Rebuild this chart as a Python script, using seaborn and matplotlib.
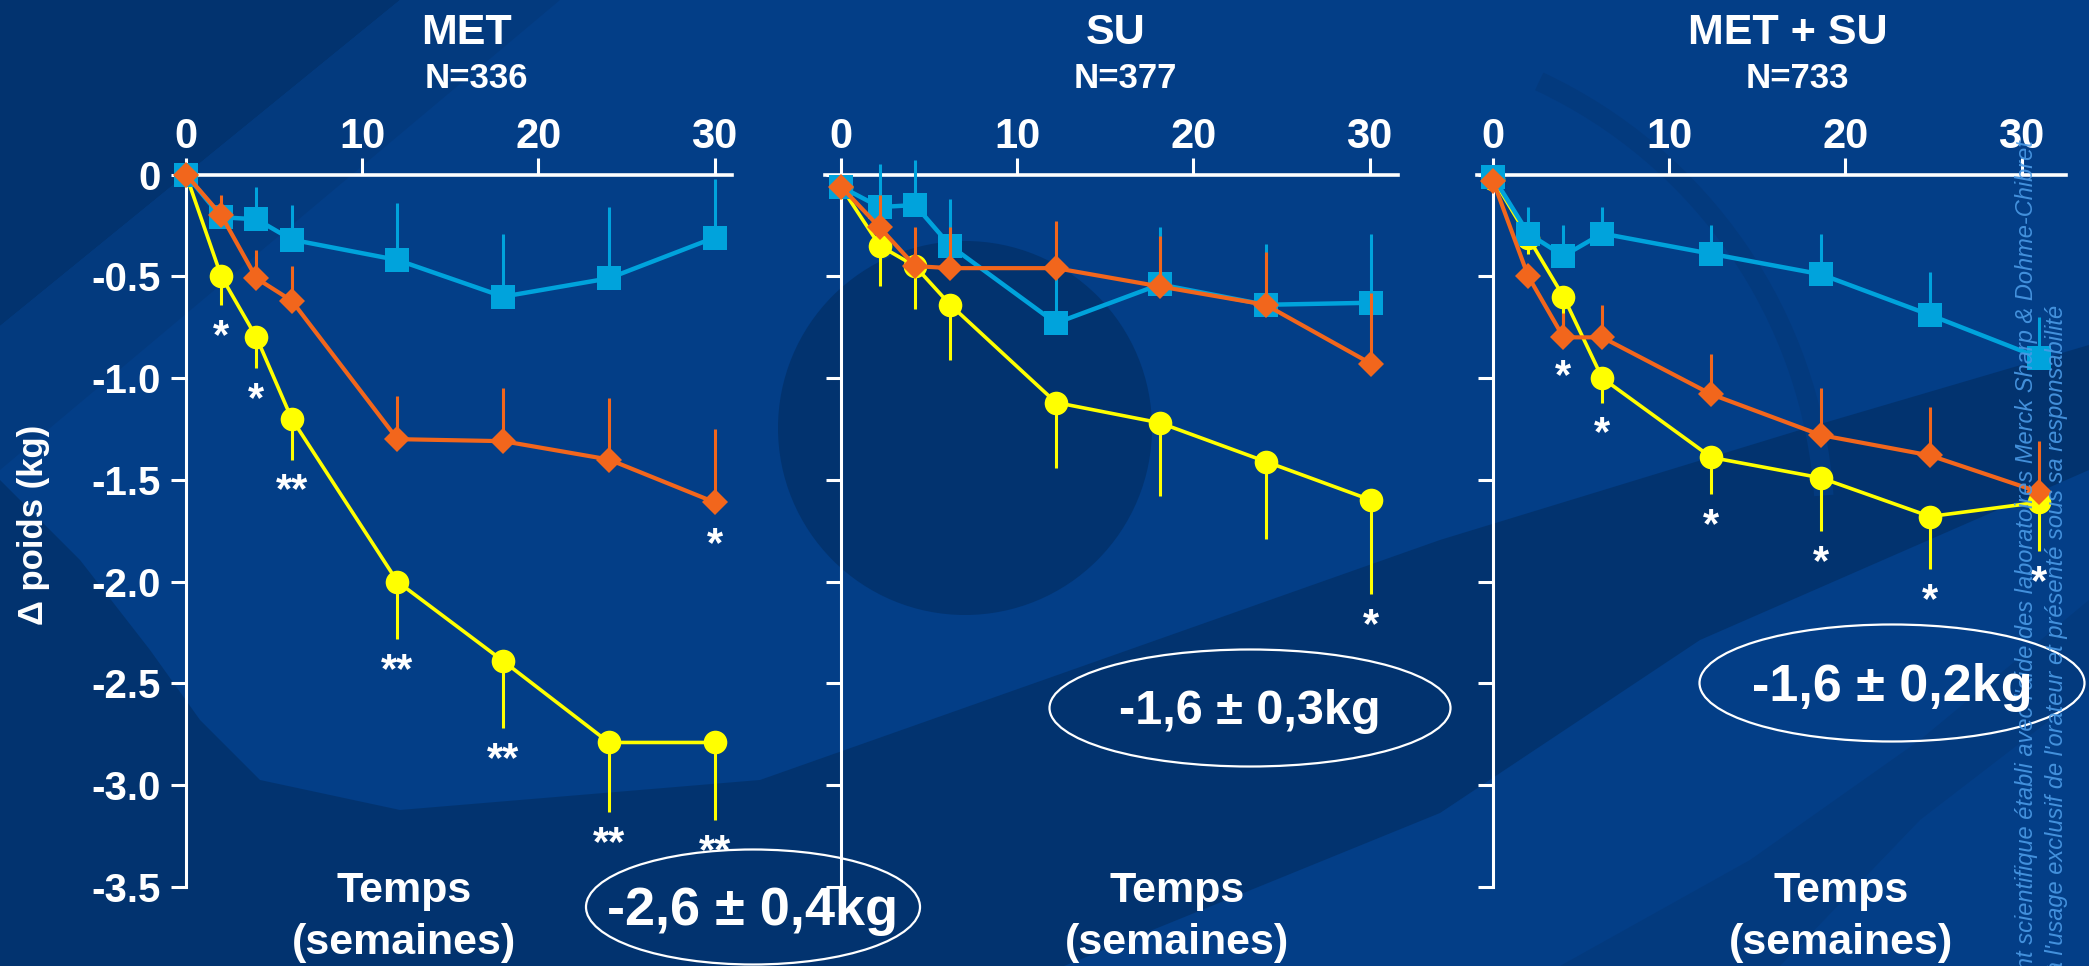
import numpy as np
import pandas as pd
import matplotlib
matplotlib.use("Agg")
import matplotlib.pyplot as plt
from matplotlib.patches import Ellipse, Circle, Polygon, Arc
import seaborn as sns

# ---------------------------------------------------------------- data
PANELS = ["MET", "SU", "MET + SU"]
EFFECTIFS = ["N=336", "N=377", "N=733"]
RESUMES = ["-2,6 \u00b1 0,4kg", "-1,6 \u00b1 0,3kg", "-1,6 \u00b1 0,2kg"]

# weeks at which each panel's points sit
SEMAINES_MET = [0, 2, 4, 6, 12, 18, 24, 30]
SEMAINES_SU = [0, 2.2, 4.2, 6.2, 12.2, 18.1, 24.1, 30.1]
SEMAINES_MET_SU = [0, 2, 4, 6.2, 12.4, 18.6, 24.8, 31.0]

# change in weight (kg), three treatment arms per panel
BLEU_MET = [0, -0.21, -0.22, -0.32, -0.42, -0.60, -0.51, -0.31]
ORANGE_MET = [0, -0.20, -0.51, -0.62, -1.30, -1.31, -1.40, -1.61]
JAUNE_MET = [0, -0.50, -0.80, -1.20, -2.00, -2.39, -2.79, -2.79]

BLEU_SU = [-0.06, -0.16, -0.15, -0.35, -0.73, -0.54, -0.64, -0.63]
ORANGE_SU = [-0.06, -0.26, -0.45, -0.46, -0.46, -0.55, -0.64, -0.93]
JAUNE_SU = [-0.06, -0.35, -0.45, -0.64, -1.12, -1.22, -1.41, -1.60]

BLEU_MET_SU = [-0.01, -0.29, -0.40, -0.29, -0.39, -0.49, -0.69, -0.90]
ORANGE_MET_SU = [-0.03, -0.50, -0.80, -0.80, -1.08, -1.28, -1.38, -1.56]
JAUNE_MET_SU = [-0.02, -0.31, -0.60, -1.00, -1.39, -1.49, -1.68, -1.61]

# one-sided error bars (up for blue/orange, down for yellow)
ERR_BLEU_MET = [0, 0.09, 0.16, 0.17, 0.28, 0.31, 0.35, 0.29]
ERR_ORANGE_MET = [0, 0.10, 0.14, 0.17, 0.21, 0.26, 0.30, 0.36]
ERR_JAUNE_MET = [0, 0.14, 0.15, 0.20, 0.28, 0.33, 0.34, 0.38]

ERR_BLEU_SU = [0, 0.21, 0.22, 0.23, 0.29, 0.28, 0.30, 0.34]
ERR_ORANGE_SU = [0, 0.16, 0.19, 0.20, 0.23, 0.25, 0.26, 0.35]
ERR_JAUNE_SU = [0, 0.20, 0.21, 0.27, 0.32, 0.36, 0.38, 0.46]

ERR_BLEU_MET_SU = [0, 0.13, 0.15, 0.13, 0.14, 0.20, 0.21, 0.20]
ERR_ORANGE_MET_SU = [0, 0.05, 0.12, 0.16, 0.20, 0.23, 0.24, 0.25]
ERR_JAUNE_MET_SU = [0, 0.08, 0.24, 0.12, 0.18, 0.26, 0.26, 0.24]

# significance marks
SIG_ORANGE_MET = ["", "", "", "", "", "", "", "*"]
SIG_JAUNE_MET = ["", "*", "*", "**", "**", "**", "**", "**"]
SIG_JAUNE_SU = ["", "", "", "", "", "", "", "*"]
SIG_JAUNE_MET_SU = ["", "", "*", "*", "*", "*", "*", "*"]
NO_SIG = [""] * 8

X_TICKS = [0, 10, 20, 30]
Y_TICKS = [0, -0.5, -1.0, -1.5, -2.0, -2.5, -3.0, -3.5]
Y_TICK_LABELS = ["0", "-0.5", "-1.0", "-1.5", "-2.0", "-2.5", "-3.0", "-3.5"]

# ---------------------------------------------------------------- style
sns.set_theme(style="white")
plt.rcParams["font.family"] = ["Liberation Sans", "DejaVu Sans"]
plt.rcParams["axes.unicode_minus"] = False

BG = "#033e87"
BG_DARK = "#02336f"
BG_MID = "#033a7e"
BLEU = "#00a3dc"
ORANGE = "#f2661c"
JAUNE = "#ffff00"
BLANC = "white"
FILIGRANE = "#4a9ae6"

W, H = 2089, 966
fig = plt.figure(figsize=(W / 100, H / 100), dpi=100, facecolor=BG)

# background decoration, in pixel coordinates
bg = fig.add_axes([0, 0, 1, 1], zorder=-10)
bg.set_xlim(0, W)
bg.set_ylim(H, 0)
bg.axis("off")
bg.add_patch(Polygon([(0, 0), (400, 0), (0, 326)], closed=True, color=BG_DARK, lw=0))
bg.add_patch(Polygon([(400, 0), (560, 0), (0, 470), (0, 326)], closed=True,
                     color=BG_MID, lw=0))
bg.add_patch(Polygon([(0, 480), (80, 560), (150, 650), (200, 720), (260, 780),
                      (400, 810), (760, 780), (1100, 660), (1440, 540),
                      (1800, 430), (2089, 345), (2089, 470), (1700, 640),
                      (1440, 813), (1064, 966), (0, 966)],
                     closed=True, color=BG_DARK, lw=0))
bg.add_patch(Polygon([(1560, 966), (1750, 860), (1920, 740), (2089, 600),
                      (2089, 690), (1920, 820), (1780, 966)],
                     closed=True, color=BG_MID, lw=0))
bg.add_patch(Circle((965, 428), 187, color=BG_DARK, lw=0))
bg.add_patch(Arc((1330, 530), 990, 990, theta1=-65, theta2=-4,
                 color=BG_MID, lw=14))

# axes geometry: pixel of week 0, pixels per week, x-limits
PPW = 17.62
Y0_PX, YB_PX = 174.5, 887
geom = [(186, (-0.1, 31.0)), (841, (-0.9, 31.6)), (1493, (-0.9, 32.5))]

series = [
    (SEMAINES_MET,
     [(JAUNE_MET, ERR_JAUNE_MET, SIG_JAUNE_MET),
      (BLEU_MET, ERR_BLEU_MET, NO_SIG),
      (ORANGE_MET, ERR_ORANGE_MET, SIG_ORANGE_MET)]),
    (SEMAINES_SU,
     [(JAUNE_SU, ERR_JAUNE_SU, SIG_JAUNE_SU),
      (BLEU_SU, ERR_BLEU_SU, NO_SIG),
      (ORANGE_SU, ERR_ORANGE_SU, NO_SIG)]),
    (SEMAINES_MET_SU,
     [(JAUNE_MET_SU, ERR_JAUNE_MET_SU, SIG_JAUNE_MET_SU),
      (BLEU_MET_SU, ERR_BLEU_MET_SU, NO_SIG),
      (ORANGE_MET_SU, ERR_ORANGE_MET_SU, NO_SIG)]),
]
styles = [
    dict(color=JAUNE, marker="o", markersize=17, linewidth=2.6, down=True, z=3),
    dict(color=BLEU, marker="s", markersize=17, linewidth=3.2, down=False, z=4),
    dict(color=ORANGE, marker="D", markersize=13, linewidth=3.0, down=False, z=5),
]

title_x = [467, 1116, 1788]
temps_x = [404, 1177, 1841]
ellipses = [((753, 907), 334, 115, 39), ((1250, 708), 401, 117, 35),
            ((1892, 683), 385, 117, 37.5)]

for i, (name, n) in enumerate(zip(PANELS, EFFECTIFS)):
    x0px, xlim = geom[i]
    left = x0px + xlim[0] * PPW
    right = x0px + xlim[1] * PPW
    ax = fig.add_axes([left / W, 1 - YB_PX / H, (right - left) / W, (YB_PX - Y0_PX) / H])
    ax.set_facecolor("none")
    ax.set_xlim(*xlim)
    ax.set_ylim(-3.5, 0)

    weeks, groups = series[i]
    for (vals, errs, sigs), st in zip(groups, styles):
        df = pd.DataFrame({"semaine": weeks, "poids": vals})
        vals_a = np.array(vals)
        errs_a = np.array(errs)
        yerr = [errs_a, np.zeros_like(errs_a)] if st["down"] else [np.zeros_like(errs_a), errs_a]
        ax.errorbar(weeks, vals_a, yerr=yerr, fmt="none", ecolor=st["color"],
                    elinewidth=2.2, capsize=0, zorder=st["z"], clip_on=False)
        sns.lineplot(data=df, x="semaine", y="poids", ax=ax, color=st["color"],
                     marker=st["marker"], markersize=st["markersize"],
                     markeredgewidth=0, linewidth=st["linewidth"],
                     errorbar=None, estimator=None, sort=False,
                     zorder=st["z"], clip_on=False)
        for w, v, e, s in zip(weeks, vals_a, errs_a, sigs):
            if not s:
                continue
            if st["down"]:
                ax.annotate(s, (w, v - e), xytext=(0, -31), textcoords="offset points",
                            ha="center", va="baseline", color=BLANC, fontsize=30,
                            fontweight="bold", annotation_clip=False)
            else:
                ax.annotate(s, (w, v), xytext=(0, -39), textcoords="offset points",
                            ha="center", va="baseline", color=BLANC, fontsize=30,
                            fontweight="bold", annotation_clip=False)

    # axis styling: x axis along y=0 at the top, y axis along week 0
    for sp in ["right", "bottom"]:
        ax.spines[sp].set_visible(False)
    ax.spines["top"].set_color(BLANC)
    ax.spines["left"].set_color(BLANC)
    ax.spines["top"].set_linewidth(2.6)
    ax.spines["left"].set_linewidth(2.2)
    ax.spines["left"].set_position(("data", 0))
    ax.spines["left"].set_bounds(-3.5, 0)
    ax.spines["top"].set_zorder(2)
    ax.xaxis.tick_top()
    ax.set_xticks(X_TICKS)
    ax.set_xticklabels([str(t) for t in X_TICKS])
    ax.tick_params(axis="x", which="major", direction="out", length=12, width=2.2,
                   color=BLANC, labelcolor=BLANC, labelsize=30, pad=0.5,
                   bottom=False, top=True, labeltop=True, labelbottom=False)
    for lab in ax.get_xticklabels():
        lab.set_fontweight("bold")
    ax.set_yticks(Y_TICKS)
    if i == 0:
        ax.set_yticklabels(Y_TICK_LABELS)
        for lab in ax.get_yticklabels():
            lab.set_fontweight("bold")
    else:
        ax.set_yticklabels([])
    ax.tick_params(axis="y", direction="out", length=11, width=2.2, color=BLANC,
                   labelcolor=BLANC, labelsize=29, pad=7, left=True)
    ax.set_xlabel("")
    ax.set_ylabel("")
    ax.grid(False)

    # titles and axis captions in pixel coordinates
    fig.text(title_x[i] / W, 1 - 44 / H, name, ha="center", va="baseline",
             color=BLANC, fontsize=31, fontweight="bold")
    fig.text(title_x[i] / W + 9 / W, 1 - 88 / H, n, ha="center", va="baseline",
             color=BLANC, fontsize=25, fontweight="bold")
    fig.text(temps_x[i] / W, 1 - 902 / H, "Temps", ha="center", va="baseline",
             color=BLANC, fontsize=31, fontweight="bold")
    fig.text(temps_x[i] / W, 1 - 954 / H, "(semaines)", ha="center", va="baseline",
             color=BLANC, fontsize=31, fontweight="bold")

    (cx, cy), ew, eh, fs = ellipses[i]
    bg.add_patch(Ellipse((cx, cy), ew, eh, fill=False, edgecolor=BLANC, lw=1.6, zorder=5))
    fig.text(cx / W, 1 - (cy + 4) / H, RESUMES[i], ha="center", va="center",
             color=BLANC, fontsize=fs, fontweight="bold", zorder=20)

# y-axis caption
fig.text(34 / W, 1 - 525 / H, "\u0394 poids (kg)", rotation=90, ha="center", va="center",
         color=BLANC, fontsize=25, fontweight="bold")

# vertical notice along the right edge
fig.text(2026 / W, 1 - 140 / H,
         "Document scientifique \u00e9tabli avec l'aide des laboratoires Merck Sharp & Dohme-Chibret",
         rotation=90, ha="center", va="top", color=FILIGRANE, fontsize=17,
         fontstyle="italic", alpha=0.9)
fig.text(2056 / W, 1 - 305 / H,
         "Il est \u00e0 l'usage exclusif de l'orateur et pr\u00e9sent\u00e9 sous sa responsabilit\u00e9",
         rotation=90, ha="center", va="top", color=FILIGRANE, fontsize=17,
         fontstyle="italic", alpha=0.9)

fig.savefig("out.png", dpi=100, facecolor=BG)
